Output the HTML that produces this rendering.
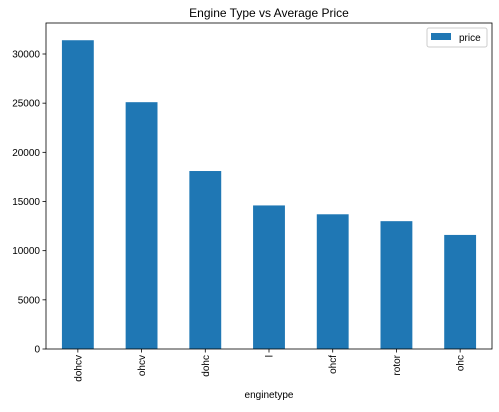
<!DOCTYPE html>
<html><head><meta charset="utf-8"><style>
body{margin:0;background:#fff;}
text{font-family:"Liberation Sans","DejaVu Sans",sans-serif;fill:#000;}
</style></head><body>
<svg id="c" width="499" height="407" xmlns="http://www.w3.org/2000/svg">
<text x="269" y="17" font-size="12" text-anchor="middle">Engine Type vs Average Price</text>
<text x="269" y="398" font-size="10" text-anchor="middle">enginetype</text>
<g id="bars"></g><g id="ticks"></g>
<rect x="46" y="23" width="446" height="326" fill="none" stroke="#000" stroke-width="0.8"/>
<g>
<rect x="427" y="28" width="60" height="19" rx="2" fill="#fff" stroke="#ccc"/>
<rect x="431" y="33" width="20" height="7" fill="#1f77b4"/>
<text x="459" y="41" font-size="10">price</text>
</g>
</svg>
<script>
const categories=["dohcv","ohcv","dohc","l","ohcf","rotor","ohc"];
const prices=[31400,25100,18100,14600,13700,13000,11600];
const yTicks=[0,5000,10000,15000,20000,25000,30000];
const L=46,R=492,B=349,T=23;
const y=v=>B-v*(349-54)/30000;
const step=(R-L)/categories.length;
const xc=i=>L+step*(i+0.5);
const ns="http://www.w3.org/2000/svg";
const bars=document.getElementById('bars'),tk=document.getElementById('ticks');
function mk(t,a,p){const e=document.createElementNS(ns,t);for(const k in a)e.setAttribute(k,a[k]);p.appendChild(e);return e;}
prices.forEach((v,i)=>{
 const r=mk('rect',{x:xc(i)-step/4,y:y(v),width:step/2,height:B-y(v),fill:'#1f77b4'},bars);
 
 
 const l=mk('line',{x1:xc(i),x2:xc(i),y1:B,y2:B+3.5,stroke:'#000','stroke-width':0.8},tk);
 
 
 const t=mk('text',{x:0,y:0,'font-size':10,'text-anchor':'end',transform:`translate(${xc(i)+3.5},${B+6}) rotate(-90)`},tk);
 t.textContent=categories[i];
 
 
});
yTicks.forEach(v=>{
 const l=mk('line',{x1:L-3.5,x2:L,y1:y(v),y2:y(v),stroke:'#000','stroke-width':0.8},tk);
 
 
 const t=mk('text',{x:L-6,y:y(v)+3.5,'font-size':10,'text-anchor':'end'},tk);
 t.textContent=v;
 
 
});
</script>
</body></html>
